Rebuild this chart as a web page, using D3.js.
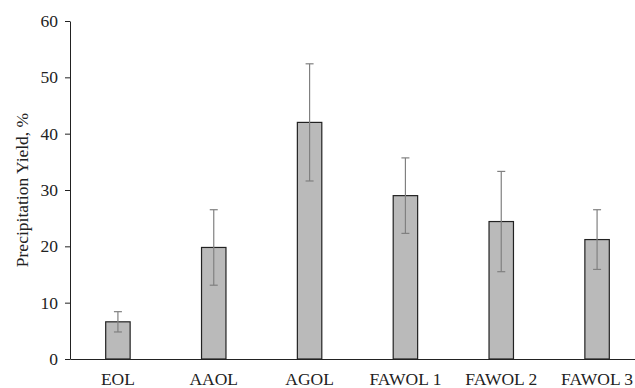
<!DOCTYPE html>
<html>
<head>
<meta charset="utf-8">
<script src="https://cdn.jsdelivr.net/npm/d3@7"></script>
<style>
  body { margin: 0; background: #fff; }
  svg { display: block; }
</style>
</head>
<body>
<svg id="chart" width="635" height="388"></svg>
<script>
const categories = ["EOL", "AAOL", "AGOL", "FAWOL 1", "FAWOL 2", "FAWOL 3"];
const yields = [6.6, 19.8, 42.0, 29.0, 24.4, 21.2];
const errors = [1.8, 6.7, 10.4, 6.7, 8.9, 5.3];
const yTicks = [0, 10, 20, 30, 40, 50, 60];

const data = categories.map((c, i) => ({ name: c, value: yields[i], err: errors[i] }));

const plotLeft = 70, plotTop = 21, plotBottom = 359;
const serif = "'Liberation Serif', 'Times New Roman', serif";
const fontSize = 17.5;

const svg = d3.select("#chart");

// the plot runs a bit past the right edge of the picture
const x = d3.scaleBand()
    .domain(categories)
    .range([plotLeft, 645])
    .paddingInner(0.745)
    .paddingOuter(0.3725);

const y = d3.scaleLinear()
    .domain([0, 60])
    .range([plotBottom, plotTop]);

// y axis
const yAxis = svg.append("g")
    .attr("transform", `translate(${plotLeft},0)`)
    .call(d3.axisLeft(y).tickValues(yTicks).tickSize(5).tickPadding(7).tickSizeOuter(0));
yAxis.attr("font-family", serif).attr("font-size", fontSize);
yAxis.select(".domain").attr("stroke", "#222");
yAxis.selectAll(".tick line").attr("stroke", "#222");
yAxis.selectAll(".tick text").attr("fill", "#222");

// bars
svg.append("g")
  .selectAll("rect")
  .data(data)
  .enter().append("rect")
    .attr("x", d => x(d.name))
    .attr("y", d => y(d.value))
    .attr("width", x.bandwidth())
    .attr("height", d => y(0) - y(d.value))
    .attr("fill", "#bababa")
    .attr("stroke", "#222")
    .attr("stroke-width", 1.2);

// error bars
const errG = svg.append("g")
    .attr("stroke", "#808080")
    .attr("stroke-width", 1.2);

errG.selectAll("line.stem")
  .data(data)
  .enter().append("line")
    .attr("class", "stem")
    .attr("x1", d => x(d.name) + x.bandwidth() / 2)
    .attr("x2", d => x(d.name) + x.bandwidth() / 2)
    .attr("y1", d => y(d.value + d.err))
    .attr("y2", d => y(d.value - d.err));

errG.selectAll("line.capTop")
  .data(data)
  .enter().append("line")
    .attr("class", "capTop")
    .attr("x1", d => x(d.name) + x.bandwidth() / 2 - 4)
    .attr("x2", d => x(d.name) + x.bandwidth() / 2 + 4)
    .attr("y1", d => y(d.value + d.err))
    .attr("y2", d => y(d.value + d.err));

errG.selectAll("line.capBot")
  .data(data)
  .enter().append("line")
    .attr("class", "capBot")
    .attr("x1", d => x(d.name) + x.bandwidth() / 2 - 4)
    .attr("x2", d => x(d.name) + x.bandwidth() / 2 + 4)
    .attr("y1", d => y(d.value - d.err))
    .attr("y2", d => y(d.value - d.err));

// x axis (line + labels, no ticks)
const xAxis = svg.append("g")
    .attr("transform", `translate(0,${plotBottom})`)
    .call(d3.axisBottom(x).tickSize(0).tickPadding(14).tickSizeOuter(0));
xAxis.attr("font-family", serif).attr("font-size", fontSize);
xAxis.select(".domain").attr("stroke", "#222");
xAxis.selectAll(".tick text").attr("fill", "#222");

// y label
svg.append("text")
    .attr("transform", `translate(28,${(plotTop + plotBottom) / 2}) rotate(-90)`)
    .attr("text-anchor", "middle")
    .attr("font-family", serif)
    .attr("font-size", fontSize)
    .attr("fill", "#222")
    .text("Precipitation Yield, %");
</script>
</body>
</html>
